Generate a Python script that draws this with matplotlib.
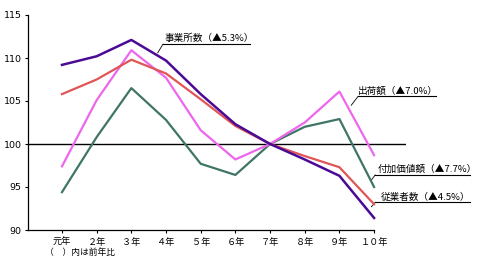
import matplotlib
matplotlib.use("Agg")
import matplotlib.pyplot as plt
import numpy as np

plt.rcParams['font.family'] = ['Noto Sans CJK JP', 'DejaVu Sans']

years = ['元年', '２年', '３年', '４年', '５年', '６年', '７年', '８年', '９年', '１０年']
establishments = [109.2, 110.2, 112.1, 109.7, 105.8, 102.3, 100.0, 98.2, 96.3, 91.4]   # 事業所数
shipments      = [97.4, 105.1, 110.9, 107.7, 101.6, 98.2, 100.0, 102.5, 106.1, 98.7]    # 出荷額
value_added    = [94.4, 100.8, 106.5, 102.8, 97.7, 96.4, 100.0, 102.0, 102.9, 95.0]    # 付加価値額
employees      = [105.8, 107.5, 109.8, 108.2, 105.2, 102.1, 100.0, 98.6, 97.3, 93.0]   # 従業者数
yticks = [90, 95, 100, 105, 110, 115]

W, H = 485, 263
fig = plt.figure(figsize=(W / 100, H / 100), dpi=100)
ax = fig.add_axes([28 / W, (H - 230) / H, (406 - 28) / W, (230 - 15) / H])

x = np.arange(len(years))
ax.plot(x, value_added, color='#3F7566', lw=1.6, zorder=3)
ax.plot(x, shipments, color='#EE66EE', lw=1.6, zorder=3)
ax.plot(x, employees, color='#E05555', lw=1.6, zorder=4)
ax.plot(x, establishments, color='#4B0A96', lw=1.8, zorder=5)

ax.axhline(100, color='black', lw=1.0, zorder=2)

ax.set_xlim(-0.98, 9.92)
ax.set_ylim(90, 115)
ax.set_yticks(yticks)
ax.set_yticklabels([str(v) for v in yticks], fontsize=6.8, family='DejaVu Sans')
ax.set_xticks(x)
ax.set_xticklabels(years, fontsize=6.6)
ax.tick_params(axis='y', length=2.5, width=0.8, pad=2)
ax.tick_params(axis='x', length=2.5, width=0.8, pad=3)
for s in ['top', 'right']:
    ax.spines[s].set_visible(False)
ax.spines['bottom'].set_bounds(-0.98, 9)
ax.spines['left'].set_linewidth(0.9)
ax.spines['bottom'].set_linewidth(0.9)


def label(text, tx, ty, ux0, ux1, lx, ly):
    # text sits on an underline (data coords), leader line to the curve
    ax.text(tx, ty + 0.1, text, fontsize=6.9, ha='left', va='bottom', clip_on=False)
    ax.plot([ux0, ux1], [ty, ty], color='black', lw=0.8, clip_on=False)
    ax.plot([ux0, lx], [ty, ly], color='black', lw=0.6, clip_on=False)


label('事業所数（▲5.3%）', 2.97, 111.6, 2.91, 5.43, 2.76, 110.6)
label('出荷額（▲7.0%）', 8.54, 105.55, 8.54, 10.79, 8.34, 104.5)
label('付加価値額（▲7.7%）', 9.09, 96.4, 9.03, 11.77, 8.92, 95.8)
label('従業者数（▲4.5%）', 9.2, 93.2, 9.03, 11.77, 8.92, 92.7)

fig.text(45 / W, 1 - 252 / H, '（　）内は前年比', fontsize=6.3, ha='left', va='center')

fig.savefig('out.png', dpi=100, facecolor='white')
